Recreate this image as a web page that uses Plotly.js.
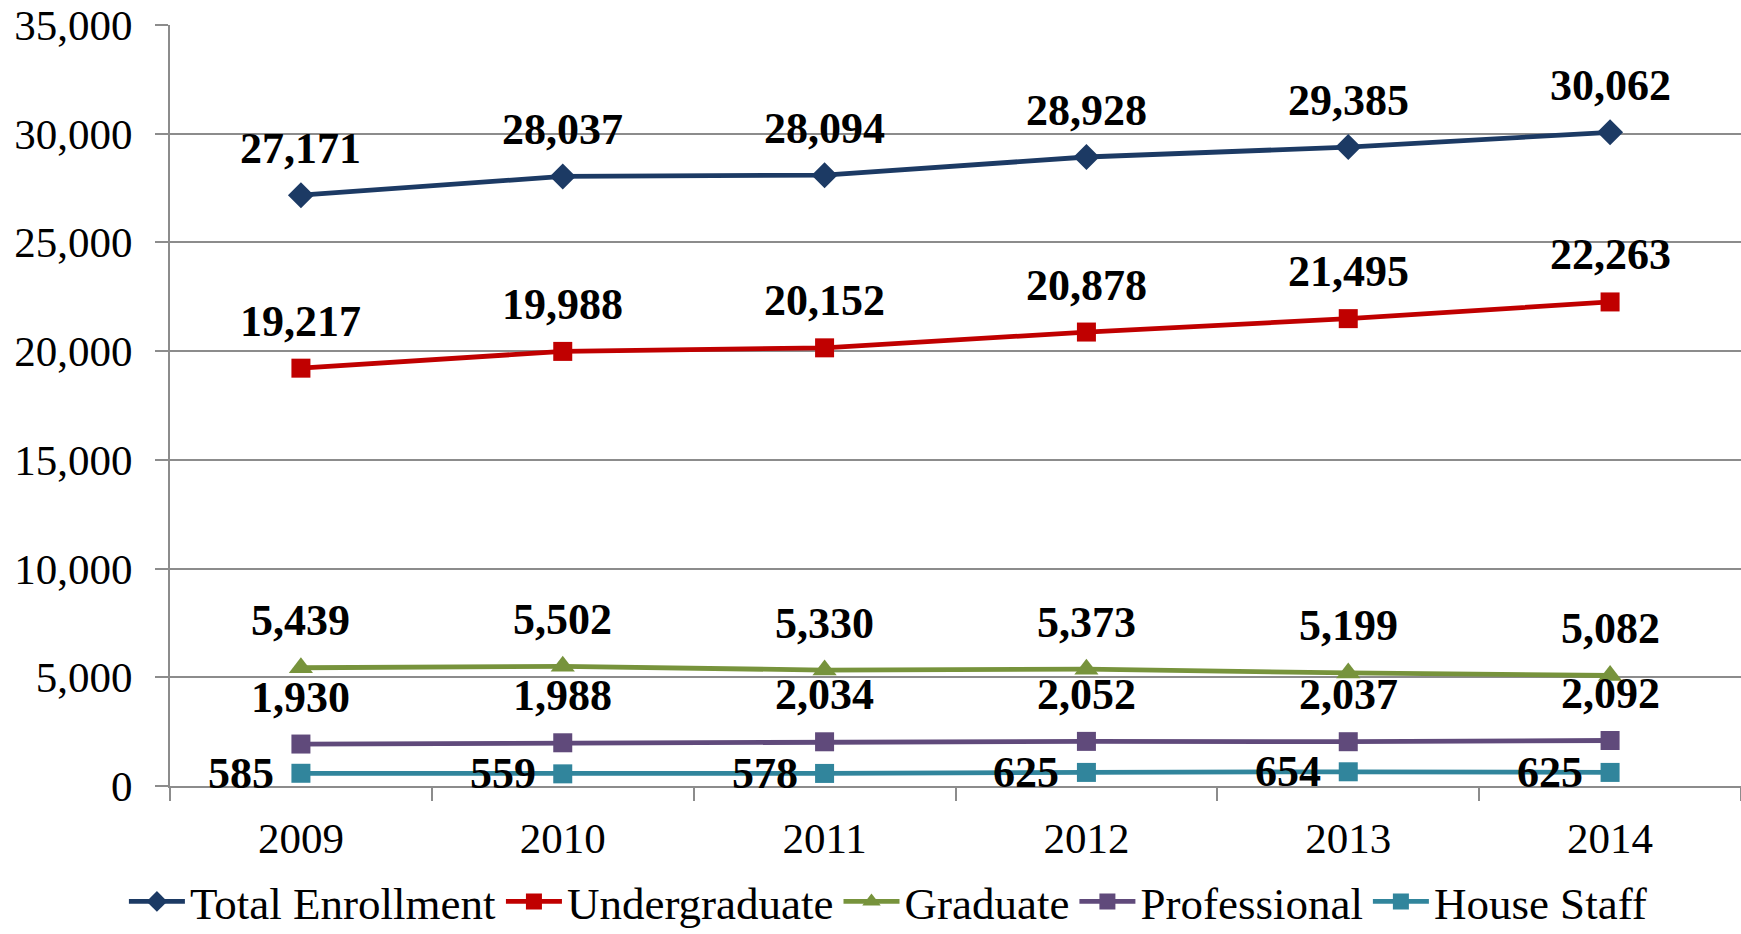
<!DOCTYPE html>
<html>
<head>
<meta charset="utf-8">
<script src="https://cdn.plot.ly/plotly-3.0.1.min.js"></script>
<style>
html,body{margin:0;padding:0;background:#fff;}
#chart{width:1741px;height:934px;}
</style>
</head>
<body>
<div id="chart"></div>
<script>
const years = ["2009","2010","2011","2012","2013","2014"];
const totalEnrollment = [27171, 28037, 28094, 28928, 29385, 30062];
const undergraduate = [19217, 19988, 20152, 20878, 21495, 22263];
const graduate = [5439, 5502, 5330, 5373, 5199, 5082];
const professional = [1930, 1988, 2034, 2052, 2037, 2092];
const houseStaff = [585, 559, 578, 625, 654, 625];
const seriesNames = ["Total Enrollment","Undergraduate","Graduate","Professional","House Staff"];
const yTickVals = [0,5000,10000,15000,20000,25000,30000,35000];
const yTickText = ["0","5,000","10,000","15,000","20,000","25,000","30,000","35,000"];

const colors = ["#1C3A64","#C00000","#77933C","#604A7B","#31859C"];
const symbols = ["diamond","square","triangle-up","square","square"];
const markerSizes = [20, 19, 21, 19, 19];
const allSeries = [totalEnrollment, undergraduate, graduate, professional, houseStaff];
const FONT = "Liberation Serif";

const traces = allSeries.map((vals, i) => ({
  type: "scatter",
  mode: "lines+markers",
  name: seriesNames[i],
  x: years,
  y: vals,
  line: {color: colors[i], width: 4.8},
  marker: {color: colors[i], symbol: symbols[i], size: markerSizes[i]},
  cliponaxis: false
}));

const fmt = v => String(v).replace(/\B(?=(\d{3})+(?!\d))/g, ",");
const annotations = [];
allSeries.forEach((vals, i) => {
  vals.forEach((v, j) => {
    const isHouse = i === 4;
    annotations.push({
      x: j, y: v, xref: "x", yref: "y",
      text: "<b>" + fmt(v) + "</b>",
      showarrow: false,
      font: {family: FONT, size: 44, color: "#000"},
      xanchor: isHouse ? "right" : "center",
      yanchor: "middle",
      xshift: isHouse ? -25 : 0,
      yshift: isHouse ? 0 : 47
    });
  });
});

const layout = {
  width: 1741, height: 934,
  paper_bgcolor: "#fff", plot_bgcolor: "#fff",
  margin: {l: 170, r: 0, t: 25, b: 148, autoexpand: false},
  font: {family: FONT, size: 43, color: "#000"},
  showlegend: true,
  legend: {
    orientation: "h",
    xref: "container", yref: "paper",
    x: 0.51, xanchor: "center",
    y: -0.152, yanchor: "middle",
    font: {family: FONT, size: 45, color: "#000"},
    itemwidth: 56,
    tracegroupgap: 0
  },
  xaxis: {
    type: "category",
    range: [-0.5, 5.5],
    showgrid: false,
    showline: true, linecolor: "#8C8C8C", linewidth: 2,
    ticks: "outside", tickson: "boundaries", ticklen: 13, tickwidth: 2, tickcolor: "#8C8C8C",
    tickfont: {family: FONT, size: 43, color: "#000"},
    ticklabelstandoff: 13,
    automargin: false,
    zeroline: false
  },
  yaxis: {
    range: [0, 35000],
    tickvals: yTickVals, ticktext: yTickText,
    showgrid: true, gridcolor: "#8C8C8C", gridwidth: 2,
    showline: true, linecolor: "#8C8C8C", linewidth: 2,
    ticks: "outside", ticklen: 13, tickwidth: 2, tickcolor: "#8C8C8C",
    tickfont: {family: FONT, size: 43, color: "#000"},
    ticklabelstandoff: 14,
    automargin: false,
    zeroline: false
  },
  annotations: annotations
};

Plotly.newPlot("chart", traces, layout, {displayModeBar: false, staticPlot: true});
</script>
</body>
</html>
